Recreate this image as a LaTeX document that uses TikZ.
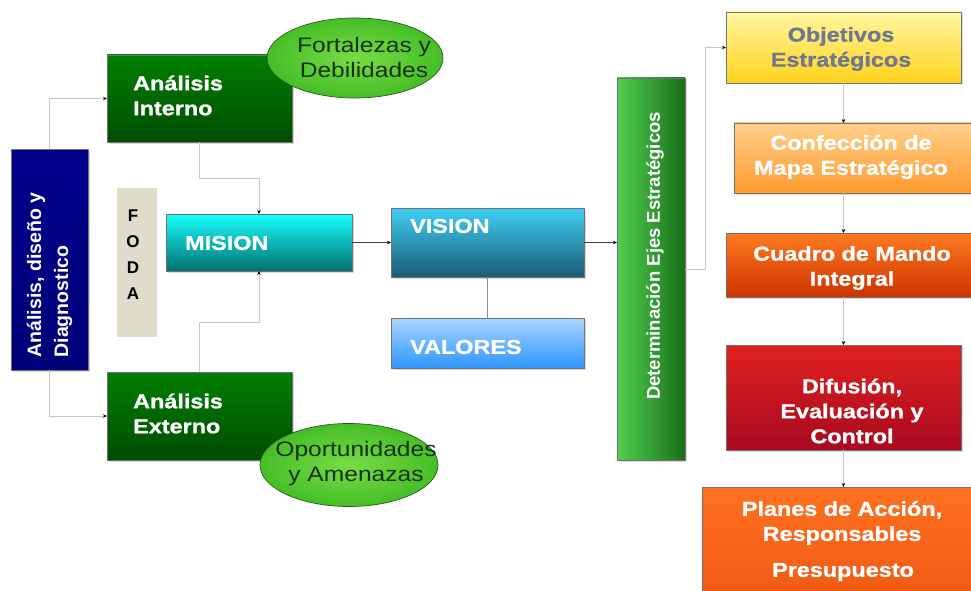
\documentclass[tikz,border=0pt]{standalone}
\usepackage{fontspec}
\setmainfont{Liberation Sans}
\newfontfamily\lab{Liberation Sans}[FakeStretch=1.17, BoldFeatures={FakeBold=1}]
\usetikzlibrary{shapes.geometric,shadows,arrows.meta}
\definecolor{cline}{HTML}{C8C8C8}
\tikzset{
  box/.style={draw=black!55, line width=0.7pt, inner sep=0pt, outer sep=0pt,
    drop shadow={shadow xshift=1.5pt, shadow yshift=-1.5pt, opacity=0.3}},
  lbl/.style={text=white, font=\lab\bfseries\fontsize{20}{25}\selectfont, inner sep=0pt},
  elltxt/.style={text={rgb,255:red,20;green,50;blue,20}, font=\lab\fontsize{21}{25}\selectfont, align=center, inner sep=0pt},
  conn/.style={draw=cline, line width=0.8pt, -{Stealth[length=4pt,width=3.5pt,black]}},
  oval/.style={ellipse, draw={rgb,255:red,40;green,90;blue,30}, line width=0.7pt, inner sep=0pt,
    inner color={rgb,255:red,120;green,220;blue,70}, outer color={rgb,255:red,70;green,190;blue,38}}
}
\begin{document}
\begin{tikzpicture}[x=1pt,y=-1pt]
\useasboundingbox (0,0) rectangle (971,591);
\clip (0,0) rectangle (971,591);
% left column
\node[box, top color={rgb,255:red,0;green,0;blue,140}, bottom color={rgb,255:red,0;green,0;blue,120}, minimum width=77pt, minimum height=221pt] (diag) at (49.5,259.5) {};
\node[box, top color=green!50!black, bottom color=green!30!black, minimum width=185pt, minimum height=87pt] (interno) at (199.5,98.5) {};
\node[box, top color=green!50!black, bottom color=green!30!black, minimum width=185pt, minimum height=88pt] (externo) at (199.5,416) {};
\node[fill={rgb,255:red,224;green,220;blue,204}, inner sep=0pt, minimum width=40pt, minimum height=149pt] (foda) at (137,262.5) {};
\node[box, top color={rgb,255:red,26;green,255;blue,255}, bottom color={rgb,255:red,0;green,112;blue,112}, minimum width=186pt, minimum height=57pt] (mision) at (259,242.5) {};
\node[box, top color={rgb,255:red,63;green,208;blue,245}, bottom color={rgb,255:red,27;green,90;blue,116}, minimum width=193pt, minimum height=69pt] (vision) at (487.5,242.5) {};
\node[box, top color={rgb,255:red,169;green,212;blue,255}, bottom color={rgb,255:red,47;green,151;blue,255}, minimum width=193pt, minimum height=50pt] (valores) at (487.5,343) {};
\node[box, left color={rgb,255:red,79;green,208;blue,79}, right color={rgb,255:red,26;green,110;blue,26}, minimum width=68pt, minimum height=382pt] (det) at (651,269) {};
% right column
\node[box, top color={rgb,255:red,255;green,247;blue,160}, bottom color={rgb,255:red,255;green,210;blue,26}, minimum width=235pt, minimum height=71pt] (obj) at (843.5,47.5) {};
\node[box, top color={rgb,255:red,255;green,208;blue,138}, bottom color={rgb,255:red,255;green,154;blue,46}, minimum width=241pt, minimum height=70pt] (conf) at (854.5,158) {};
\node[box, top color={rgb,255:red,255;green,122;blue,32}, bottom color={rgb,255:red,204;green,51;blue,0}, minimum width=249pt, minimum height=64pt] (cuadro) at (850.5,265) {};
\node[box, top color={rgb,255:red,224;green,32;blue,32}, bottom color={rgb,255:red,168;green,10;blue,30}, minimum width=235pt, minimum height=105pt] (dif) at (843.5,397.5) {};
\node[box, top color={rgb,255:red,255;green,112;blue,32}, bottom color={rgb,255:red,240;green,90;blue,20}, minimum width=278pt, minimum height=113pt] (planes) at (841,543.5) {};
% ellipses
\node[oval, minimum width=176pt, minimum height=80pt] (fort) at (355,58) {};
\node[oval, minimum width=178pt, minimum height=83pt] (oport) at (349,465) {};
% connectors
\draw[conn] (diag.north) |- (interno.west);
\draw[conn] (diag.south) |- (externo.west);
\draw[conn] (interno.south) -- ++(0,36) -| (mision.north);
\draw[conn] (externo.north) -- ++(0,-50) -| (mision.south);
\draw[-{Stealth[length=4pt,width=3.5pt,black]}, draw=black!75, line width=0.8pt] (mision.east) -- (vision.west);
\draw[draw=black!45, line width=1.6pt] (vision.south) -- (valores.north);
\draw[-{Stealth[length=4pt,width=3.5pt,black]}, draw=black!75, line width=0.8pt] (vision.east) -- (vision.east -| det.west);
\draw[conn] (det.east) -- ++(20,0) |- (obj.west);
\draw[conn] (obj.south) -- (obj.south |- conf.north);
\draw[conn] (obj.south |- conf.south) -- (obj.south |- cuadro.north);
\draw[conn] (obj.south |- cuadro.south) -- (obj.south |- dif.north);
\draw[conn] (obj.south |- dif.south) -- (obj.south |- planes.north);
% texts
\node[lbl, rotate=90, align=left, font=\bfseries\fontsize{19.5}{27}\selectfont] (tdiag) at (49.5,275) {Análisis, diseño y\\Diagnostico};
\node[lbl, align=left, anchor=west] (tint) at (133,95.5) {Análisis\\Interno};
\node[lbl, align=left, anchor=west] (text) at (133,413.5) {Análisis\\Externo};
\node[elltxt] (tfort) at (364,57) {Fortalezas y\\Debilidades};
\node[elltxt] (toport) at (356,464) {Oportunidades\\y Amenazas};
\node[inner sep=0pt, align=center, font=\bfseries\fontsize{17}{26}\selectfont] (tfoda) at (133,255) {F\\O\\D\\A};
\node[lbl, anchor=west] (tmis) at (185,243) {MISION};
\node[lbl, anchor=west] (tvis) at (410,226) {VISION};
\node[lbl, anchor=west] (tval) at (410,347) {VALORES};
\node[lbl, rotate=90, font=\bfseries\fontsize{18.5}{22}\selectfont] (tdet) at (655,256) {Determinación Ejes Estratégicos};
\node[lbl, align=center, text={rgb,255:red,112;green,120;blue,144}] (tobj) at (841,49) {Objetivos\\Estratégicos};
\node[lbl, align=center] (tconf) at (851,157) {Confección de\\Mapa Estratégico};
\node[lbl, align=center] (tcua) at (852,268) {Cuadro de Mando\\Integral};
\node[lbl, align=center] (tdif) at (852,411) {Difusión,\\Evaluación y\\Control};
\node[lbl, align=center] (tpla) at (842,523) {Planes de Acción,\\Responsables};
\node[lbl] (tpre) at (843,572) {Presupuesto};
\end{tikzpicture}
\end{document}
